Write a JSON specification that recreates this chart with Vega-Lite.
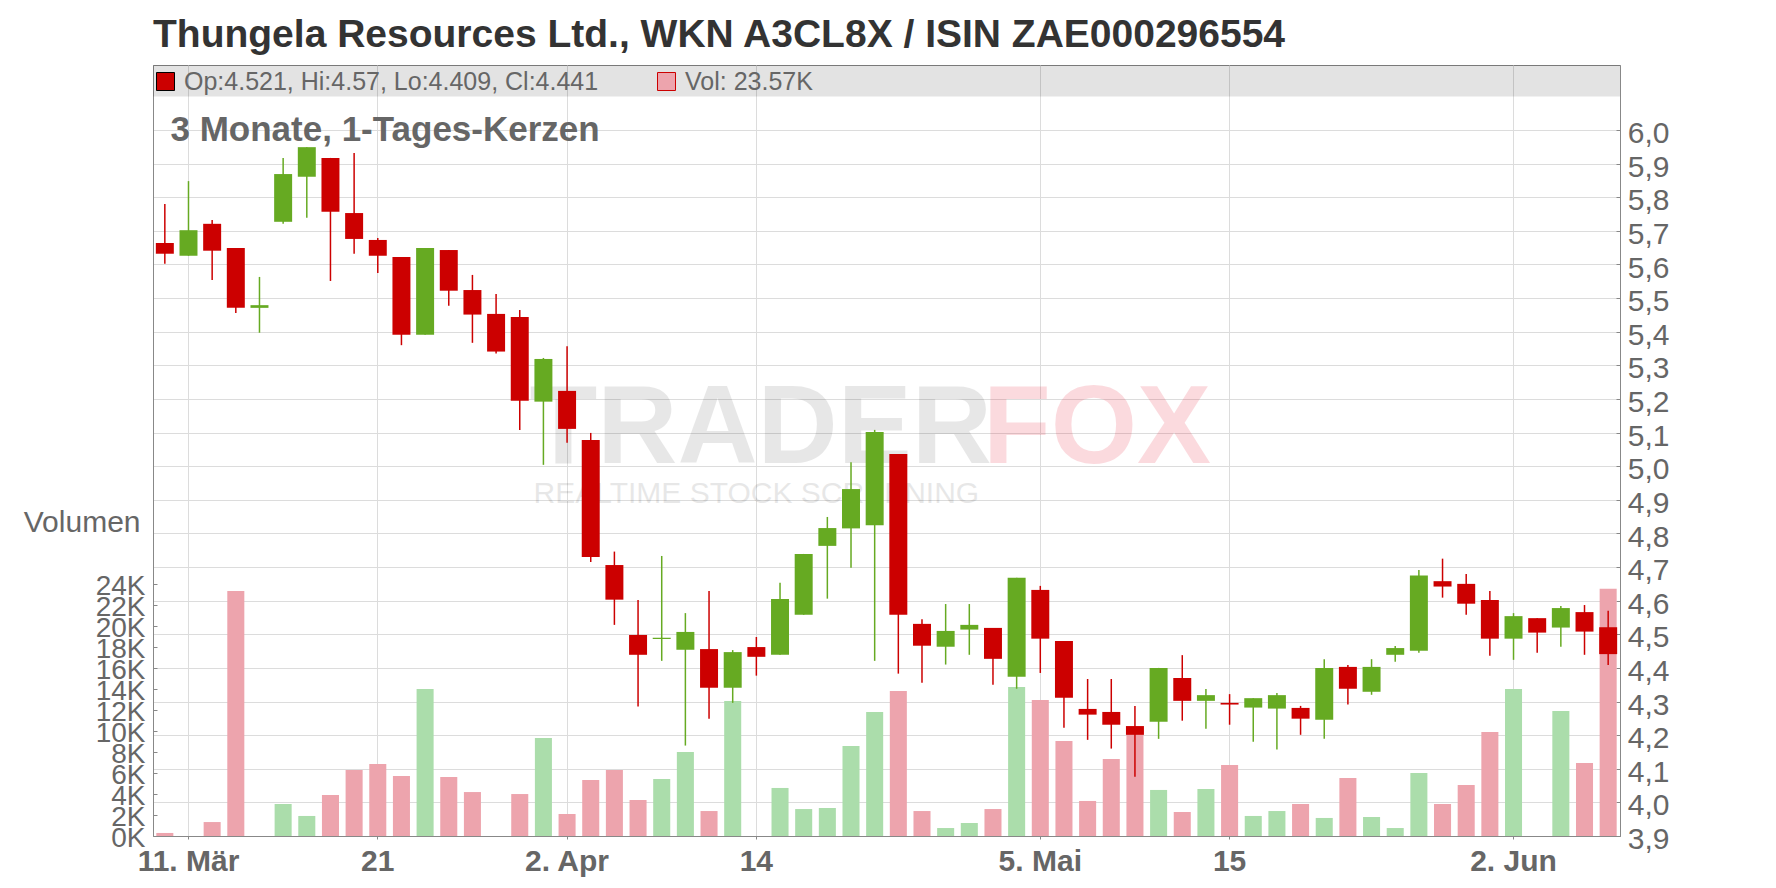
{
  "$schema": "https://vega.github.io/schema/vega-lite/v6.json",
  "width": 1467,
  "height": 771,
  "autosize": {"type": "none"},
  "padding": {"left": 153, "top": 65, "right": 156, "bottom": 52},
  "background": "white",
  "config": {
    "font": "Liberation Sans",
    "view": {"stroke": "#888888", "strokeWidth": 1}
  },
  "title": {
    "text": "Thungela Resources Ltd., WKN A3CL8X / ISIN ZAE000296554",
    "anchor": "start",
    "frame": "group",
    "fontSize": 39,
    "fontWeight": "bold",
    "color": "#333333",
    "offset": 10
  },
  "datasets": {
    "kurse": [
      {"d": "2025-03-10", "o": 5.664, "h": 5.780, "l": 5.602, "c": 5.632, "v": 290, "dir": "down"},
      {"d": "2025-03-11", "o": 5.626, "h": 5.848, "l": 5.626, "c": 5.702, "v": 0, "dir": "up"},
      {"d": "2025-03-12", "o": 5.721, "h": 5.732, "l": 5.554, "c": 5.641, "v": 1330, "dir": "down"},
      {"d": "2025-03-13", "o": 5.649, "h": 5.649, "l": 5.456, "c": 5.471, "v": 23360, "dir": "down"},
      {"d": "2025-03-14", "o": 5.471, "h": 5.563, "l": 5.397, "c": 5.479, "v": 0, "dir": "up"},
      {"d": "2025-03-17", "o": 5.727, "h": 5.917, "l": 5.721, "c": 5.869, "v": 3050, "dir": "up"},
      {"d": "2025-03-18", "o": 5.861, "h": 5.949, "l": 5.739, "c": 5.949, "v": 1910, "dir": "up"},
      {"d": "2025-03-19", "o": 5.917, "h": 5.917, "l": 5.551, "c": 5.757, "v": 3910, "dir": "down"},
      {"d": "2025-03-20", "o": 5.753, "h": 5.932, "l": 5.632, "c": 5.676, "v": 6290, "dir": "down"},
      {"d": "2025-03-21", "o": 5.673, "h": 5.679, "l": 5.575, "c": 5.626, "v": 6860, "dir": "down"},
      {"d": "2025-03-24", "o": 5.622, "h": 5.622, "l": 5.360, "c": 5.391, "v": 5720, "dir": "down"},
      {"d": "2025-03-25", "o": 5.391, "h": 5.649, "l": 5.391, "c": 5.649, "v": 14010, "dir": "up"},
      {"d": "2025-03-26", "o": 5.643, "h": 5.643, "l": 5.477, "c": 5.522, "v": 5620, "dir": "down"},
      {"d": "2025-03-27", "o": 5.524, "h": 5.569, "l": 5.367, "c": 5.451, "v": 4190, "dir": "down"},
      {"d": "2025-03-28", "o": 5.453, "h": 5.512, "l": 5.335, "c": 5.341, "v": 0, "dir": "down"},
      {"d": "2025-03-31", "o": 5.444, "h": 5.465, "l": 5.108, "c": 5.195, "v": 4000, "dir": "down"},
      {"d": "2025-04-01", "o": 5.192, "h": 5.322, "l": 5.004, "c": 5.319, "v": 9340, "dir": "up"},
      {"d": "2025-04-02", "o": 5.224, "h": 5.357, "l": 5.070, "c": 5.111, "v": 2100, "dir": "down"},
      {"d": "2025-04-03", "o": 5.078, "h": 5.099, "l": 4.715, "c": 4.730, "v": 5340, "dir": "down"},
      {"d": "2025-04-04", "o": 4.706, "h": 4.746, "l": 4.528, "c": 4.603, "v": 6290, "dir": "down"},
      {"d": "2025-04-07", "o": 4.498, "h": 4.602, "l": 4.285, "c": 4.439, "v": 3430, "dir": "down"},
      {"d": "2025-04-08", "o": 4.486, "h": 4.733, "l": 4.421, "c": 4.490, "v": 5430, "dir": "up"},
      {"d": "2025-04-09", "o": 4.454, "h": 4.563, "l": 4.169, "c": 4.507, "v": 8010, "dir": "up"},
      {"d": "2025-04-10", "o": 4.456, "h": 4.629, "l": 4.249, "c": 4.341, "v": 2380, "dir": "down"},
      {"d": "2025-04-11", "o": 4.341, "h": 4.453, "l": 4.296, "c": 4.447, "v": 12870, "dir": "up"},
      {"d": "2025-04-14", "o": 4.462, "h": 4.492, "l": 4.377, "c": 4.433, "v": 0, "dir": "down"},
      {"d": "2025-04-15", "o": 4.439, "h": 4.653, "l": 4.439, "c": 4.605, "v": 4580, "dir": "up"},
      {"d": "2025-04-16", "o": 4.558, "h": 4.739, "l": 4.558, "c": 4.739, "v": 2570, "dir": "up"},
      {"d": "2025-04-17", "o": 4.763, "h": 4.849, "l": 4.606, "c": 4.816, "v": 2670, "dir": "up"},
      {"d": "2025-04-22", "o": 4.815, "h": 5.012, "l": 4.698, "c": 4.932, "v": 8580, "dir": "up"},
      {"d": "2025-04-23", "o": 4.824, "h": 5.108, "l": 4.421, "c": 5.102, "v": 11820, "dir": "up"},
      {"d": "2025-04-24", "o": 5.036, "h": 5.036, "l": 4.383, "c": 4.558, "v": 13820, "dir": "down"},
      {"d": "2025-04-25", "o": 4.531, "h": 4.545, "l": 4.356, "c": 4.466, "v": 2380, "dir": "down"},
      {"d": "2025-04-28", "o": 4.463, "h": 4.590, "l": 4.410, "c": 4.510, "v": 760, "dir": "up"},
      {"d": "2025-04-29", "o": 4.514, "h": 4.590, "l": 4.439, "c": 4.528, "v": 1240, "dir": "up"},
      {"d": "2025-04-30", "o": 4.519, "h": 4.519, "l": 4.350, "c": 4.427, "v": 2570, "dir": "down"},
      {"d": "2025-05-02", "o": 4.374, "h": 4.668, "l": 4.338, "c": 4.668, "v": 14200, "dir": "up"},
      {"d": "2025-05-05", "o": 4.632, "h": 4.644, "l": 4.385, "c": 4.487, "v": 12960, "dir": "down"},
      {"d": "2025-05-06", "o": 4.480, "h": 4.480, "l": 4.222, "c": 4.311, "v": 9060, "dir": "down"},
      {"d": "2025-05-07", "o": 4.278, "h": 4.367, "l": 4.186, "c": 4.261, "v": 3340, "dir": "down"},
      {"d": "2025-05-08", "o": 4.269, "h": 4.367, "l": 4.160, "c": 4.231, "v": 7340, "dir": "down"},
      {"d": "2025-05-09", "o": 4.227, "h": 4.287, "l": 4.076, "c": 4.201, "v": 9720, "dir": "down"},
      {"d": "2025-05-12", "o": 4.240, "h": 4.400, "l": 4.189, "c": 4.400, "v": 4390, "dir": "up"},
      {"d": "2025-05-13", "o": 4.370, "h": 4.438, "l": 4.243, "c": 4.302, "v": 2290, "dir": "down"},
      {"d": "2025-05-14", "o": 4.302, "h": 4.337, "l": 4.219, "c": 4.319, "v": 4480, "dir": "up"},
      {"d": "2025-05-15", "o": 4.296, "h": 4.322, "l": 4.231, "c": 4.291, "v": 6770, "dir": "down"},
      {"d": "2025-05-16", "o": 4.282, "h": 4.310, "l": 4.180, "c": 4.310, "v": 1910, "dir": "up"},
      {"d": "2025-05-19", "o": 4.279, "h": 4.325, "l": 4.157, "c": 4.319, "v": 2380, "dir": "up"},
      {"d": "2025-05-20", "o": 4.281, "h": 4.287, "l": 4.201, "c": 4.249, "v": 3050, "dir": "down"},
      {"d": "2025-05-21", "o": 4.246, "h": 4.426, "l": 4.189, "c": 4.400, "v": 1720, "dir": "up"},
      {"d": "2025-05-22", "o": 4.403, "h": 4.409, "l": 4.291, "c": 4.338, "v": 5530, "dir": "down"},
      {"d": "2025-05-23", "o": 4.329, "h": 4.426, "l": 4.320, "c": 4.403, "v": 1810, "dir": "up"},
      {"d": "2025-05-26", "o": 4.439, "h": 4.465, "l": 4.418, "c": 4.459, "v": 760, "dir": "up"},
      {"d": "2025-05-27", "o": 4.451, "h": 4.691, "l": 4.445, "c": 4.675, "v": 6010, "dir": "up"},
      {"d": "2025-05-28", "o": 4.658, "h": 4.725, "l": 4.609, "c": 4.642, "v": 3050, "dir": "down"},
      {"d": "2025-05-29", "o": 4.650, "h": 4.679, "l": 4.558, "c": 4.591, "v": 4860, "dir": "down"},
      {"d": "2025-05-30", "o": 4.602, "h": 4.629, "l": 4.436, "c": 4.487, "v": 9910, "dir": "down"},
      {"d": "2025-06-02", "o": 4.487, "h": 4.563, "l": 4.424, "c": 4.554, "v": 14010, "dir": "up"},
      {"d": "2025-06-03", "o": 4.548, "h": 4.548, "l": 4.445, "c": 4.505, "v": 0, "dir": "down"},
      {"d": "2025-06-04", "o": 4.520, "h": 4.584, "l": 4.463, "c": 4.578, "v": 11920, "dir": "up"},
      {"d": "2025-06-05", "o": 4.566, "h": 4.587, "l": 4.439, "c": 4.508, "v": 6960, "dir": "down"},
      {"d": "2025-06-06", "o": 4.521, "h": 4.570, "l": 4.409, "c": 4.441, "v": 23570, "dir": "down"}
    ]
  },
  "data": {"name": "kurse"},
  "layer": [
    {
      "mark": {"type": "bar", "width": {"band": 0.72}},
      "encoding": {
        "x": {
          "field": "d",
          "type": "ordinal",
          "scale": {"paddingInner": 0, "paddingOuter": 0},
          "axis": {
            "values": ["2025-03-11", "2025-03-21", "2025-04-02", "2025-04-14", "2025-05-05", "2025-05-15", "2025-06-02"],
            "labelExpr": "datum.value == '2025-03-11' ? '11. Mär' : datum.value == '2025-03-21' ? '21' : datum.value == '2025-04-02' ? '2. Apr' : datum.value == '2025-04-14' ? '14' : datum.value == '2025-05-05' ? '5. Mai' : datum.value == '2025-05-15' ? '15' : datum.value == '2025-06-02' ? '2. Jun' : ''",
            "title": null,
            "labelAngle": 0,
            "labelFontSize": 30,
            "labelFontWeight": "bold",
            "labelColor": "#666666",
            "labelPadding": 7,
            "tickSize": 3,
            "tickColor": "#888888",
            "domainColor": "#888888",
            "grid": true,
            "gridColor": "#dcdcdc",
            "labelOverlap": false
          }
        },
        "y": {
          "field": "v",
          "type": "quantitative",
          "scale": {"domain": [0, 73500], "nice": false},
          "axis": {
            "orient": "left",
            "values": [0, 2000, 4000, 6000, 8000, 10000, 12000, 14000, 16000, 18000, 20000, 22000, 24000],
            "labelExpr": "(datum.value / 1000) + 'K'",
            "labelFontSize": 28,
            "labelColor": "#666666",
            "labelBaseline": "alphabetic",
            "labelOffset": 10.7,
            "labelPadding": 12,
            "labelOverlap": false,
            "tickSize": -4,
            "tickColor": "#888888",
            "domainColor": "#888888",
            "grid": false,
            "title": "Volumen",
            "titleAngle": 0,
            "titleAlign": "right",
            "titleBaseline": "alphabetic",
            "titleX": -13,
            "titleY": 466.7,
            "titleFontSize": 30,
            "titleFontWeight": "normal",
            "titleColor": "#666666"
          }
        },
        "fill": {
          "field": "dir",
          "type": "nominal",
          "scale": {"domain": ["down", "up"], "range": ["#eda4ad", "#abddab"]},
          "legend": {
            "values": ["down"],
            "title": null,
            "orient": "none",
            "legendX": 501,
            "legendY": 4,
            "padding": 0,
            "symbolType": "square",
            "symbolSize": 324,
            "symbolStrokeColor": "black",
            "symbolStrokeWidth": 1,
            "labelExpr": "'Vol: 23.57K'",
            "labelFontSize": 25,
            "labelColor": "#666666",
            "labelOffset": 6,
            "labelLimit": 1000
          }
        }
      }
    },
    {
      "layer": [
        {
          "data": {"values": [{}]},
          "mark": {"type": "rect", "fill": "black", "fillOpacity": 0.11},
          "encoding": {
            "y": {
              "datum": 6.1,
              "type": "quantitative",
              "scale": {"domain": [3.9, 6.1934], "nice": false, "zero": false},
              "axis": {
                "orient": "right",
                "values": [3.9, 4.0, 4.1, 4.2, 4.3, 4.4, 4.5, 4.6, 4.7, 4.8, 4.9, 5.0, 5.1, 5.2, 5.3, 5.4, 5.5, 5.6, 5.7, 5.8, 5.9, 6.0],
                "tickCount": 22,
                "labelExpr": "replace(format(datum.value, '.1f'), '.', ',')",
                "labelFontSize": 30,
                "labelColor": "#666666",
                "labelBaseline": "alphabetic",
                "labelOffset": 12.6,
                "labelPadding": 11.3,
                "labelOverlap": false,
                "labelFlush": false,
                "tickSize": -4,
                "tickColor": "#888888",
                "domainColor": "#888888",
                "grid": true,
                "gridColor": "#dcdcdc",
                "title": "3 Monate, 1-Tages-Kerzen",
                "titleAngle": 0,
                "titleAlign": "left",
                "titleBaseline": "alphabetic",
                "titleX": -1450,
                "titleY": 75,
                "titleFontSize": 35,
                "titleFontWeight": "bold",
                "titleColor": "#666666"
              }
            },
            "y2": {"datum": 6.1934}
          }
        },
        {
          "data": {"values": [{}]},
          "mark": {"type": "text", "text": "TRADER", "align": "right", "baseline": "alphabetic", "dx": -1, "fontSize": 111, "fontWeight": "bold", "fill": "black", "opacity": 0.09},
          "encoding": {
            "x": {"datum": "2025-04-30", "type": "ordinal"},
            "y": {"datum": 5.01, "type": "quantitative", "scale": {"domain": [3.9, 6.1934], "nice": false, "zero": false}}
          }
        },
        {
          "data": {"values": [{}]},
          "mark": {"type": "text", "text": "FOX", "align": "left", "baseline": "alphabetic", "dx": -10, "fontSize": 111, "fontWeight": "bold", "fill": "#e8102a", "opacity": 0.15},
          "encoding": {
            "x": {"datum": "2025-04-30", "type": "ordinal"},
            "y": {"datum": 5.01, "type": "quantitative", "scale": {"domain": [3.9, 6.1934], "nice": false, "zero": false}}
          }
        },
        {
          "data": {"values": [{}]},
          "mark": {"type": "text", "text": "REALTIME STOCK SCREENING", "align": "center", "baseline": "alphabetic", "fontSize": 30, "fill": "black", "opacity": 0.09},
          "encoding": {
            "x": {"datum": "2025-04-14", "type": "ordinal"},
            "y": {"datum": 4.891, "type": "quantitative", "scale": {"domain": [3.9, 6.1934], "nice": false, "zero": false}}
          }
        },
        {
          "mark": {"type": "rule", "strokeWidth": 1.5},
          "encoding": {
            "x": {"field": "d", "type": "ordinal"},
            "y": {"field": "l", "type": "quantitative", "scale": {"domain": [3.9, 6.1934], "nice": false, "zero": false}},
            "y2": {"field": "h"},
            "stroke": {
              "field": "dir",
              "type": "nominal",
              "scale": {"domain": ["down", "up"], "range": ["#cc0000", "#66aa22"]},
              "legend": null
            }
          }
        },
        {
          "mark": {"type": "bar", "width": {"band": 0.76}},
          "encoding": {
            "x": {"field": "d", "type": "ordinal"},
            "y": {"field": "o", "type": "quantitative", "scale": {"domain": [3.9, 6.1934], "nice": false, "zero": false}},
            "y2": {"field": "c"},
            "color": {
              "field": "dir",
              "type": "nominal",
              "scale": {"domain": ["up", "down"], "range": ["#66aa22", "#cc0000"]},
              "legend": {
                "values": ["down"],
                "title": null,
                "orient": "none",
                "legendX": 0,
                "legendY": 4,
                "padding": 0,
                "symbolType": "square",
                "symbolSize": 324,
                "symbolStrokeColor": "black",
                "symbolStrokeWidth": 1,
                "labelExpr": "'Op:4.521, Hi:4.57, Lo:4.409, Cl:4.441'",
                "labelFontSize": 25,
                "labelColor": "#666666",
                "labelOffset": 6,
                "labelLimit": 1000
              }
            }
          }
        }
      ]
    }
  ],
  "resolve": {"scale": {"y": "independent"}, "axis": {"y": "independent"}}
}
